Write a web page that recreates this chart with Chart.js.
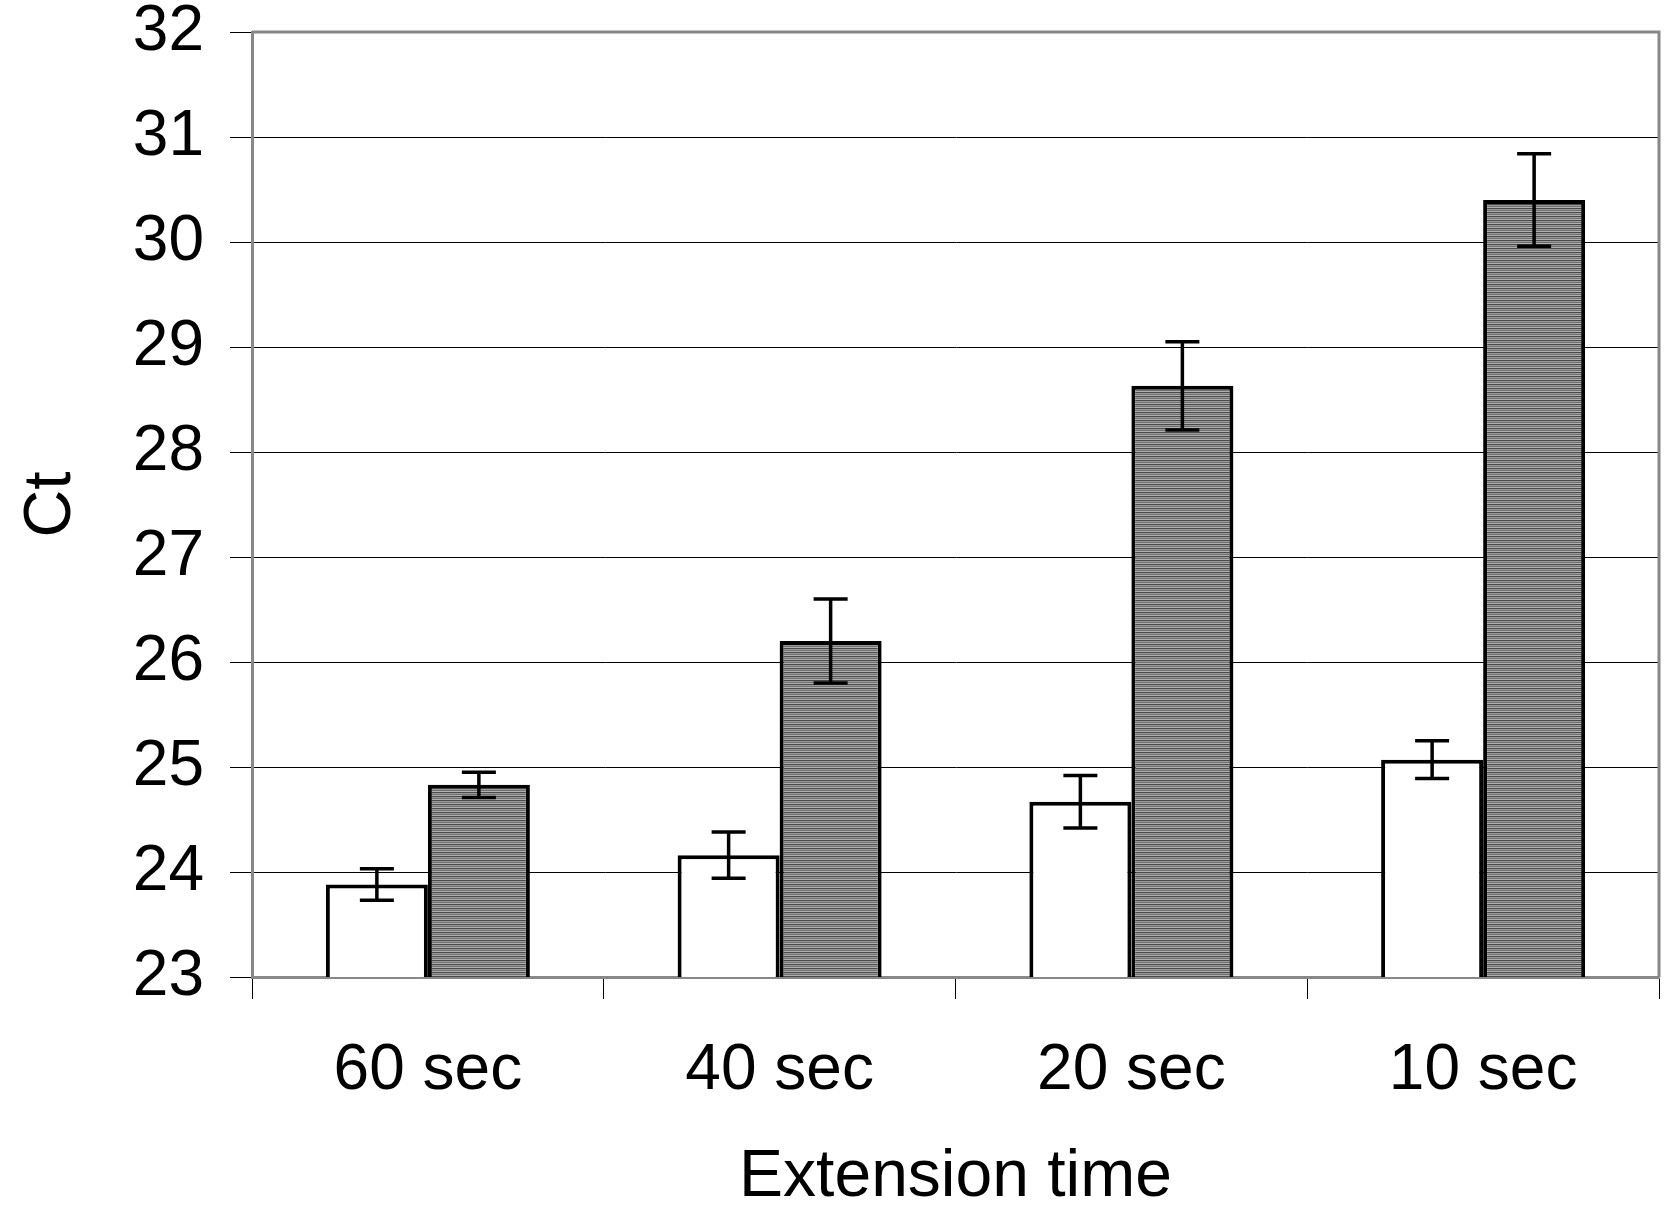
<!DOCTYPE html>
<html>
<head>
<script src="https://cdn.jsdelivr.net/npm/chart.js@4"></script>
<style>body{margin:0;background:#fff}#wrap{width:1667px;height:1211px}</style>
</head>
<body>
<div id="wrap"><canvas id="c"></canvas></div>
<script>
const categories = ['60 sec', '40 sec', '20 sec', '10 sec'];
const whiteValues = [23.88, 24.16, 24.67, 25.07];
const whiteErr = [0.15, 0.22, 0.25, 0.18];
const grayValues = [24.83, 26.2, 28.63, 30.4];
const grayErr = [0.12, 0.4, 0.42, 0.44];

const FONT = "'Liberation Sans', Arial, sans-serif";

function stripes() {
    const p = document.createElement('canvas');
    p.width = 4; p.height = 4;
    const g = p.getContext('2d');
    const cols = ['#4a4a4a', '#9a9a9a', '#707070', '#b0b0b0'];
    cols.forEach((c, i) => { g.fillStyle = c; g.fillRect(0, i, 4, 1); });
    return g.createPattern(p, 'repeat');
}

const errorBars = {
    id: 'errorBars',
    afterDatasetsDraw(chart) {
        const ctx = chart.ctx;
        const y = chart.scales.y;
        const errs = [whiteErr, grayErr];
        ctx.save();
        ctx.strokeStyle = '#000';
        ctx.lineWidth = 3.5;
        chart.data.datasets.forEach((ds, i) => {
            chart.getDatasetMeta(i).data.forEach((bar, j) => {
                const v = ds.data[j], e = errs[i][j];
                const top = y.getPixelForValue(v + e), bot = y.getPixelForValue(v - e);
                ctx.beginPath();
                ctx.moveTo(bar.x, top); ctx.lineTo(bar.x, bot);
                ctx.moveTo(bar.x - 17, top); ctx.lineTo(bar.x + 17, top);
                ctx.moveTo(bar.x - 17, bot); ctx.lineTo(bar.x + 17, bot);
                ctx.stroke();
            });
        });
        ctx.restore();
    }
};

const frame = {
    id: 'frame',
    beforeDatasetsDraw(chart) {
        const a = chart.chartArea, ctx = chart.ctx;
        ctx.save();
        ctx.strokeStyle = '#888';
        ctx.lineWidth = 3;
        ctx.beginPath();
        ctx.moveTo(a.left, a.top); ctx.lineTo(a.right, a.top); ctx.lineTo(a.right, a.bottom);
        ctx.stroke();
        ctx.restore();
    }
};

new Chart(document.getElementById('c'), {
    type: 'bar',
    data: {
        labels: categories,
        datasets: [
            { data: whiteValues, backgroundColor: '#fff', borderColor: '#000', borderWidth: 4 },
            { data: grayValues, backgroundColor: stripes(), borderColor: '#000', borderWidth: 4 }
        ]
    },
    options: {
        responsive: true,
        maintainAspectRatio: false,
        animation: false,
        layout: { padding: { top: 32, right: 8, left: 0, bottom: 0 } },
        datasets: { bar: { categoryPercentage: 0.58, barPercentage: 1 } },
        plugins: { legend: { display: false }, tooltip: { enabled: false } },
        scales: {
            x: {
                afterFit: s => { s.height = 234; s.paddingRight = 0; s.paddingLeft = 0; },
                grid: { drawOnChartArea: false, offset: true, tickLength: 22, color: '#000' },
                border: { color: '#888', width: 3 },
                ticks: { font: { family: FONT, size: 64 }, color: '#000', padding: 34 },
                title: { display: true, text: 'Extension time', font: { family: FONT, size: 66 }, color: '#000', padding: { top: 0, bottom: -6 } }
            },
            y: {
                min: 23, max: 32,
                afterFit: s => { s.width = 252; s.paddingTop = 0; s.paddingBottom = 0; },
                grid: { color: '#000', lineWidth: 1, tickLength: 22 },
                border: { color: '#888', width: 3 },
                ticks: { stepSize: 1, font: { family: FONT, size: 64 }, color: '#000', padding: 26 },
                title: { display: true, text: 'Ct', font: { family: FONT, size: 66 }, color: '#000', padding: { top: 12, bottom: 14 } }
            }
        }
    },
    plugins: [errorBars, frame]
});
</script>
</body>
</html>
